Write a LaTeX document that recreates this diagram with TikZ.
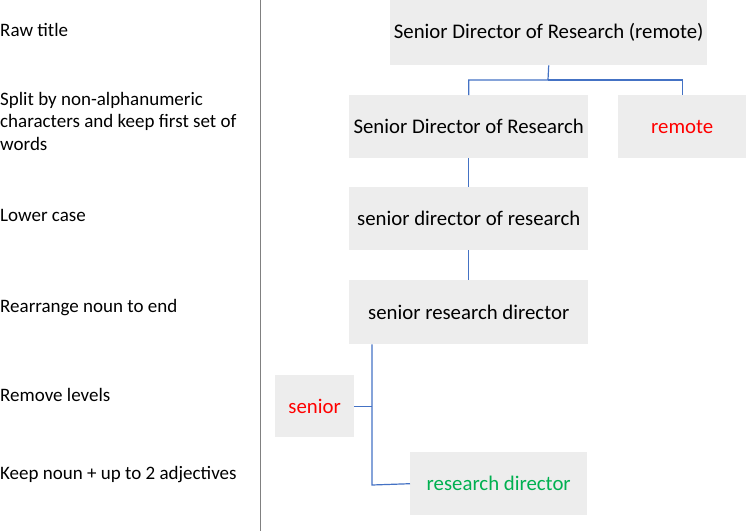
\documentclass[tikz,border=0pt]{standalone}
\usepackage{fontspec}
\setmainfont{Carlito}
\begin{document}
\begin{tikzpicture}[x=1pt,y=-1pt,
  box/.style={fill=boxgray,inner sep=0pt,anchor=north west,font=\fontsize{20.8}{25}\selectfont},
  lab/.style={anchor=west,align=left,font=\fontsize{19}{22.5}\selectfont,inner sep=0pt},
  conn/.style={draw=connblue,line width=1.2pt}]
\definecolor{boxgray}{HTML}{EDEDED}
\definecolor{connblue}{HTML}{4472C4}
\definecolor{redt}{HTML}{FF0000}
\definecolor{greent}{HTML}{00B050}
\useasboundingbox (0,0) rectangle (748,531);
\draw[gray,line width=0.8pt] (260,0) -- (260,531);
\node[lab] (l1) at (0,30) {Raw title};
\node[lab] (l2) at (0,121) {Split by non-alphanumeric\\characters and keep first set of\\words};
\node[lab] (l3) at (0,215) {Lower case};
\node[lab] (l4) at (0,308) {Rearrange noun to end};
\node[lab] (l5) at (0,395) {Remove levels};
\node[lab] (l6) at (0,475) {Keep noun + up to 2 adjectives};
\node[box,minimum width=317pt,minimum height=65pt] (raw) at (390,0) {Senior Director of Research (remote)};
\node[box,minimum width=239pt,minimum height=63pt] (split) at (349,95) {Senior Director of Research};
\node[box,minimum width=128pt,minimum height=63pt,text=redt] (remote) at (618,95) {remote};
\node[box,minimum width=239pt,minimum height=63pt] (lower) at (349,187) {senior director of research};
\node[box,minimum width=239pt,minimum height=64pt] (rearr) at (349,280) {senior research director};
\node[box,minimum width=79pt,minimum height=62pt,text=redt] (senior) at (275,375) {senior};
\node[box,minimum width=177pt,minimum height=63pt,text=greent] (rd) at (410,452) {research director};
\coordinate (j1) at (548,80);
\coordinate (bend) at (372,485);
\draw[conn] (raw.south) -- (j1) -| (split.north);
\draw[conn] (j1) -| (remote.north);
\draw[conn] (split.south) -- (lower.north);
\draw[conn] (lower.south) -- (rearr.north);
\draw[conn] (rearr.south west) ++(23,0) coordinate (rs) -- (bend) -- (rd.west);
\draw[conn] (senior.east) -- (senior.east -| rs);
\end{tikzpicture}
\end{document}
